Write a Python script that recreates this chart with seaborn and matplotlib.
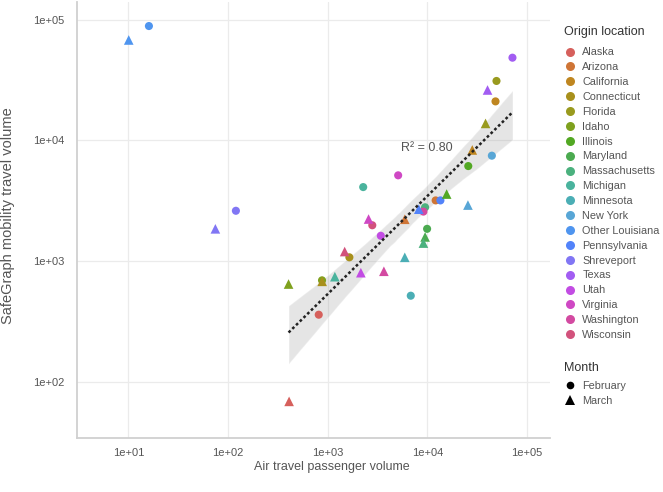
import numpy as np
import pandas as pd
import matplotlib
matplotlib.use('Agg')
import matplotlib.pyplot as plt
import seaborn as sns
from matplotlib.lines import Line2D

# origin locations, one February and one March value each
states = ['Alaska', 'Arizona', 'California', 'Connecticut', 'Florida', 'Idaho',
          'Illinois', 'Maryland', 'Massachusetts', 'Michigan', 'Minnesota',
          'New York', 'Other Louisiana', 'Pennsylvania', 'Shreveport', 'Texas',
          'Utah', 'Virginia', 'Washington', 'Wisconsin']
months = ['February', 'March']

# air travel passenger volume (Feb, Mar per state)
air = [813, 410, 12100, 5930, 48200, 28200, 1650, 880, 49300, 38300,
       877, 405, 25700, 15600, 9930, 9480, 9480, 9120, 2270, 1180,
       6810, 5930, 44300, 25500, 16.1, 10.1, 13500, 8190, 120, 74.7,
       71300, 40100, 3410, 2150, 5090, 2570, 9120, 3660, 2800, 1480]

# safegraph mobility travel volume (Feb, Mar per state)
mobility = [360, 69, 3180, 2220, 21000, 8320, 1075, 680, 31000, 13800,
            693, 646, 6120, 3590, 1850, 1585, 2790, 1410, 4100, 743,
            517, 1075, 7460, 2910, 88300, 67700, 3180, 2690, 2610, 1850,
            48300, 26100, 1620, 802, 5130, 2230, 2570, 824, 1980, 1200]

# in-state origins left out of the fit
not_fitted = ['Other Louisiana', 'Shreveport']

colors = ['#D6605C', '#CF7536', '#BF8620', '#A8901C', '#999A1E', '#7FA11E',
          '#52A823', '#4BAA50', '#4BB17E', '#4AB39D', '#4BAEB5', '#58A6D6',
          '#4F95EF', '#5283FA', '#8176F4', '#A25DF2', '#C24CE3', '#CF48C4',
          '#D34AA1', '#D2527C']
pal = dict(zip(states, colors))

df = pd.DataFrame({'origin': np.repeat(states, 2),
                   'month': months * len(states),
                   'air': air,
                   'mobility': mobility})
df['log_air'] = np.log10(df['air'])
df['log_mob'] = np.log10(df['mobility'])
fit = df[~df['origin'].isin(not_fitted)]

sns.set_style('white')
plt.rcParams['font.family'] = ['Liberation Sans', 'DejaVu Sans']
grey = '#555555'

fig = plt.figure(figsize=(6.63, 4.92), dpi=100)
ax = fig.add_axes([77 / 663, 54 / 492, 472.5 / 663, 436 / 492])

#regression band + line on the log scale
sns.regplot(data=fit, x='log_air', y='log_mob', scatter=False, ax=ax,
            color='black', seed=3, truncate=True,
            line_kws=dict(color='#222222', lw=1.8, ls=(0, (1.1, 1.0)), zorder=4))
band = ax.collections[0]
band.set_facecolor('#999999')
band.set_alpha(0.25)

feb = df[df['month'] == 'February']
mar = df[df['month'] == 'March']
sns.scatterplot(data=feb, x='log_air', y='log_mob', hue='origin', palette=pal,
                marker='o', s=34, linewidth=0, ax=ax, legend=False, zorder=3)
sns.scatterplot(data=mar, x='log_air', y='log_mob', hue='origin', palette=pal,
                marker='^', s=48, linewidth=0, ax=ax, legend=False, zorder=3)

ax.text(3.996, 3.936, 'R² = 0.80', ha='center', va='center', fontsize=9, color=grey)

ticks = [1, 2, 3, 4, 5]
ax.set_xticks(ticks)
ax.set_xticklabels(['1e+0%d' % t for t in ticks])
ax.set_yticks([2, 3, 4, 5])
ax.set_yticklabels(['1e+0%d' % t for t in [2, 3, 4, 5]])
ax.set_xlim(0.4855, 5.2246)
ax.set_ylim(1.5356, 5.145)
ax.grid(True, color='#EBEBEB', lw=0.9)
ax.set_axisbelow(True)
for s in ['top', 'right']:
    ax.spines[s].set_visible(False)
for s in ['left', 'bottom']:
    ax.spines[s].set_color('#D0D0D0')
    ax.spines[s].set_linewidth(1.3)
ax.tick_params(axis='both', colors='#D0D0D0', labelcolor=grey, labelsize=8,
               length=4, width=0.8)
ax.tick_params(axis='y', pad=5)
ax.tick_params(axis='x', pad=3)

ax.set_xlabel('Air travel passenger volume', fontsize=9, color=grey)
ax.set_ylabel('SafeGraph mobility travel volume', fontsize=10.5, color=grey)
ax.xaxis.set_label_coords((332 - 77) / 472.5, -0.052)
ax.yaxis.set_label_coords(-0.131, 0.509)

# legends (titles drawn as plain text so the gap matches)
W, H = 663, 492
state_handles = [Line2D([], [], marker='o', ls='', color=c, markersize=6.5, mew=0)
                 for c in colors]
leg1 = fig.legend(state_handles, states, loc='upper left',
                  bbox_to_anchor=(559.6 / W, 1 - 43 / H), frameon=False,
                  borderaxespad=0, fontsize=7.8, labelspacing=0.45,
                  handlelength=1.2, handletextpad=0.5)
month_handles = [Line2D([], [], marker='o', ls='', color='black', markersize=5.5, mew=0),
                 Line2D([], [], marker='^', ls='', color='black', markersize=6.5, mew=0)]
leg2 = fig.legend(month_handles, months, loc='upper left',
                  bbox_to_anchor=(559.6 / W, 1 - 376.6 / H), frameon=False,
                  borderaxespad=0, fontsize=7.8, labelspacing=0.45,
                  handlelength=1.2, handletextpad=0.5)
for leg in (leg1, leg2):
    for t in leg.get_texts():
        t.set_color(grey)
fig.text(564 / W, 1 - 31.7 / H, 'Origin location', va='center', fontsize=9, color='#333333')
fig.text(564 / W, 1 - 368.3 / H, 'Month', va='center', fontsize=9, color='#333333')

fig.savefig('out.png', dpi=100)
